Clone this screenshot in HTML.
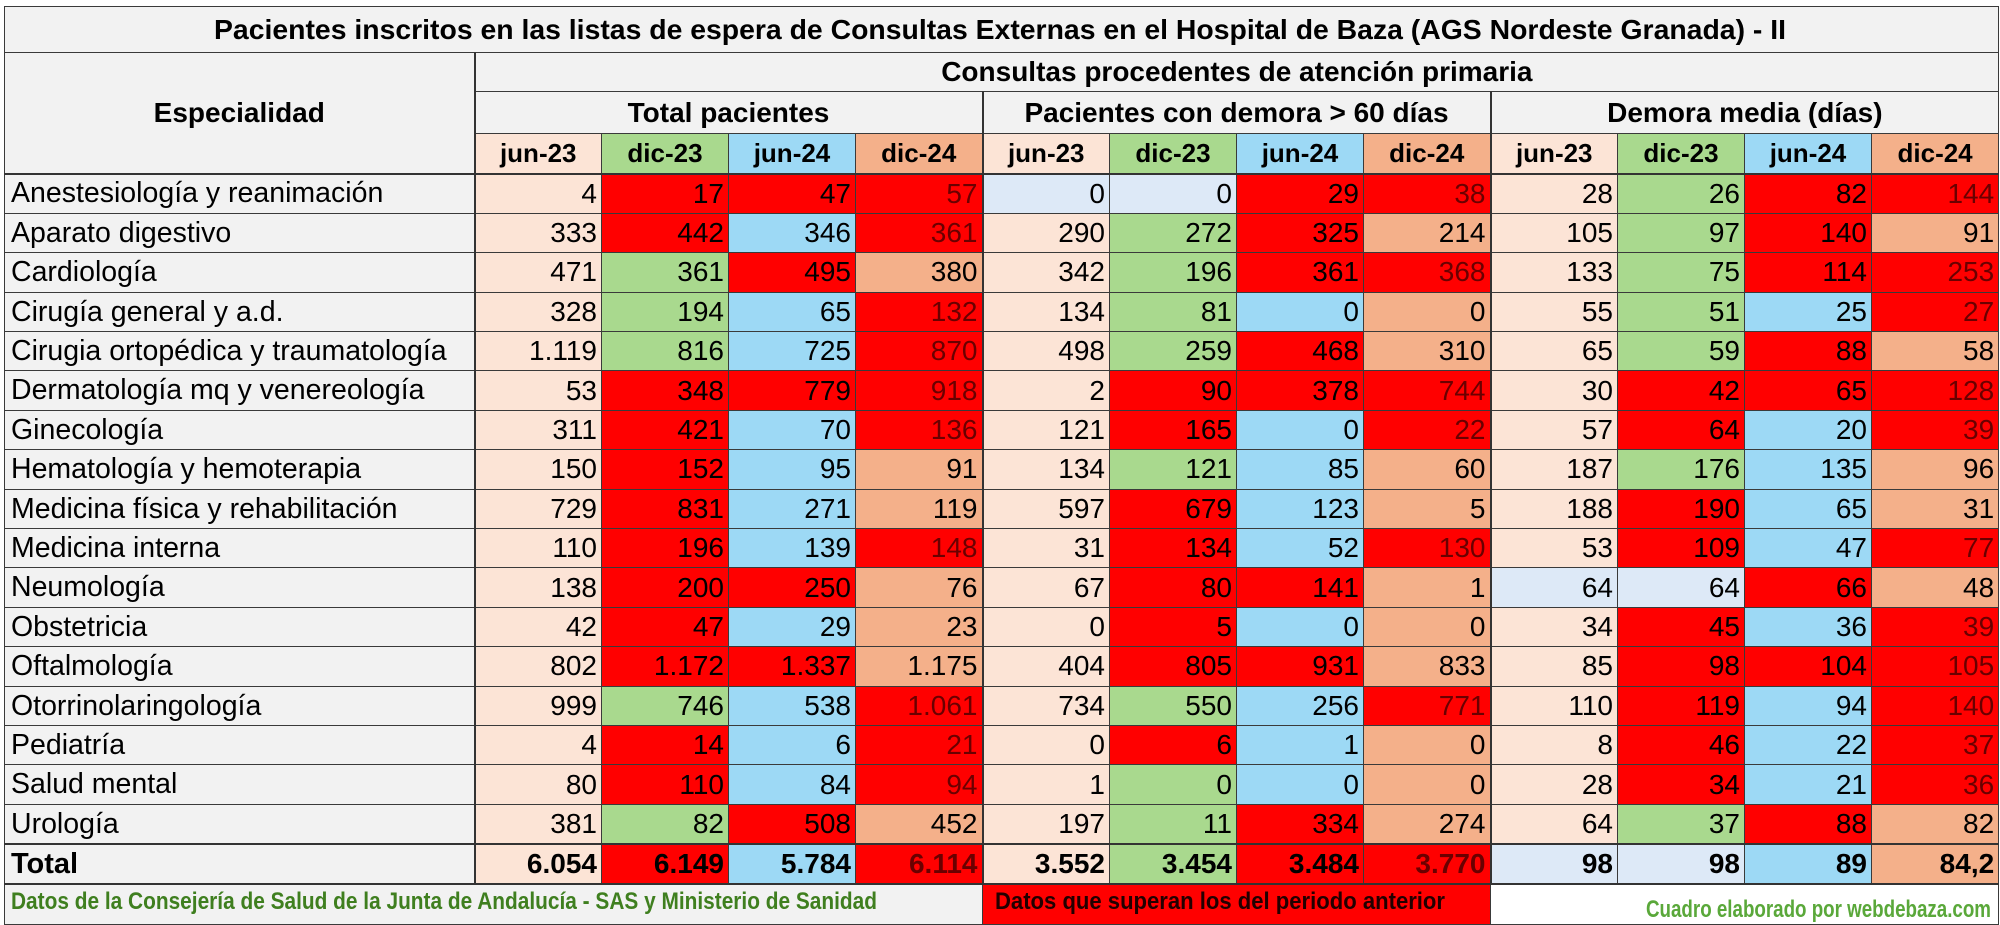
<!DOCTYPE html>
<html><head><meta charset="utf-8"><style>
body{margin:0;width:2000px;height:924px;background:#fff;overflow:hidden;font-family:"Liberation Sans",Arial,sans-serif;}
table{position:absolute;left:4px;top:6px;border-collapse:collapse;table-layout:fixed;width:1994px;}
td{border:1px solid #3a3a3a;padding:0 4px;overflow:hidden;white-space:nowrap;font-size:28px;text-align:right;line-height:1;}
td.l{text-align:left;font-size:28.5px;background:#f2f2f2;padding-left:6px;}
.h{background:#f2f2f2;text-align:center;font-weight:bold;}
.m{text-align:center;font-weight:bold;font-size:26px;}
tr.d td{height:38.4px;}
.P{background:#fce4d6}.R{background:#ff0000}.B{background:#9dd9f5}.G{background:#a9d98e}.S{background:#f4b08a}.L{background:#dde9f7}
td.R.x{color:#6a0000}
.g1{border-left:2px solid #333}
tr.t td{font-weight:bold;height:38px;border-top:2px solid #333}
</style></head><body>
<table>
<colgroup><col style="width:470px"><col span="12" style="width:127px"></colgroup>
<tr><td colspan="13" class="h" style="height:45px;padding:0"><svg width="1990" height="45" style="display:block"><text x="995" y="32" text-anchor="middle" font-family="Liberation Sans, sans-serif" font-weight="bold" font-size="28" textLength="1572" lengthAdjust="spacingAndGlyphs">Pacientes inscritos en las listas de espera de Consultas Externas en el Hospital de Baza  (AGS Nordeste Granada) - II</text></svg></td></tr>
<tr><td rowspan="3" class="h" style="font-size:28px">Especialidad</td><td colspan="12" class="h g1" style="height:38px;font-size:28px">Consultas procedentes de atención primaria</td></tr>
<tr><td colspan="4" class="h g1" style="height:41px;font-size:28px">Total pacientes</td><td colspan="4" class="h g1" style="font-size:28px">Pacientes con demora &gt; 60 días</td><td colspan="4" class="h g1" style="font-size:28px">Demora media (días)</td></tr>
<tr style="height:40px"><td class="m P g1">jun-23</td><td class="m G">dic-23</td><td class="m B">jun-24</td><td class="m S">dic-24</td><td class="m P g1">jun-23</td><td class="m G">dic-23</td><td class="m B">jun-24</td><td class="m S">dic-24</td><td class="m P g1">jun-23</td><td class="m G">dic-23</td><td class="m B">jun-24</td><td class="m S">dic-24</td></tr>
<tr class="d" style="border-top:2px solid #333"><td class="l">Anestesiología y reanimación</td><td class="P g1">4</td><td class="R">17</td><td class="R">47</td><td class="R x">57</td><td class="L g1">0</td><td class="L">0</td><td class="R">29</td><td class="R x">38</td><td class="P g1">28</td><td class="G">26</td><td class="R">82</td><td class="R x">144</td></tr>
<tr class="d"><td class="l">Aparato digestivo</td><td class="P g1">333</td><td class="R">442</td><td class="B">346</td><td class="R x">361</td><td class="P g1">290</td><td class="G">272</td><td class="R">325</td><td class="S">214</td><td class="P g1">105</td><td class="G">97</td><td class="R">140</td><td class="S">91</td></tr>
<tr class="d"><td class="l">Cardiología</td><td class="P g1">471</td><td class="G">361</td><td class="R">495</td><td class="S">380</td><td class="P g1">342</td><td class="G">196</td><td class="R">361</td><td class="R x">368</td><td class="P g1">133</td><td class="G">75</td><td class="R">114</td><td class="R x">253</td></tr>
<tr class="d"><td class="l">Cirugía general y a.d.</td><td class="P g1">328</td><td class="G">194</td><td class="B">65</td><td class="R x">132</td><td class="P g1">134</td><td class="G">81</td><td class="B">0</td><td class="S">0</td><td class="P g1">55</td><td class="G">51</td><td class="B">25</td><td class="R x">27</td></tr>
<tr class="d"><td class="l">Cirugia ortopédica y traumatología</td><td class="P g1">1.119</td><td class="G">816</td><td class="B">725</td><td class="R x">870</td><td class="P g1">498</td><td class="G">259</td><td class="R">468</td><td class="S">310</td><td class="P g1">65</td><td class="G">59</td><td class="R">88</td><td class="S">58</td></tr>
<tr class="d"><td class="l">Dermatología mq y venereología</td><td class="P g1">53</td><td class="R">348</td><td class="R">779</td><td class="R x">918</td><td class="P g1">2</td><td class="R">90</td><td class="R">378</td><td class="R x">744</td><td class="P g1">30</td><td class="R">42</td><td class="R">65</td><td class="R x">128</td></tr>
<tr class="d"><td class="l">Ginecología</td><td class="P g1">311</td><td class="R">421</td><td class="B">70</td><td class="R x">136</td><td class="P g1">121</td><td class="R">165</td><td class="B">0</td><td class="R x">22</td><td class="P g1">57</td><td class="R">64</td><td class="B">20</td><td class="R x">39</td></tr>
<tr class="d"><td class="l">Hematología y hemoterapia</td><td class="P g1">150</td><td class="R">152</td><td class="B">95</td><td class="S">91</td><td class="P g1">134</td><td class="G">121</td><td class="B">85</td><td class="S">60</td><td class="P g1">187</td><td class="G">176</td><td class="B">135</td><td class="S">96</td></tr>
<tr class="d"><td class="l">Medicina física y rehabilitación</td><td class="P g1">729</td><td class="R">831</td><td class="B">271</td><td class="S">119</td><td class="P g1">597</td><td class="R">679</td><td class="B">123</td><td class="S">5</td><td class="P g1">188</td><td class="R">190</td><td class="B">65</td><td class="S">31</td></tr>
<tr class="d"><td class="l">Medicina interna</td><td class="P g1">110</td><td class="R">196</td><td class="B">139</td><td class="R x">148</td><td class="P g1">31</td><td class="R">134</td><td class="B">52</td><td class="R x">130</td><td class="P g1">53</td><td class="R">109</td><td class="B">47</td><td class="R x">77</td></tr>
<tr class="d"><td class="l">Neumología</td><td class="P g1">138</td><td class="R">200</td><td class="R">250</td><td class="S">76</td><td class="P g1">67</td><td class="R">80</td><td class="R">141</td><td class="S">1</td><td class="L g1">64</td><td class="L">64</td><td class="R">66</td><td class="S">48</td></tr>
<tr class="d"><td class="l">Obstetricia</td><td class="P g1">42</td><td class="R">47</td><td class="B">29</td><td class="S">23</td><td class="P g1">0</td><td class="R">5</td><td class="B">0</td><td class="S">0</td><td class="P g1">34</td><td class="R">45</td><td class="B">36</td><td class="R x">39</td></tr>
<tr class="d"><td class="l">Oftalmología</td><td class="P g1">802</td><td class="R">1.172</td><td class="R">1.337</td><td class="S">1.175</td><td class="P g1">404</td><td class="R">805</td><td class="R">931</td><td class="S">833</td><td class="P g1">85</td><td class="R">98</td><td class="R">104</td><td class="R x">105</td></tr>
<tr class="d"><td class="l">Otorrinolaringología</td><td class="P g1">999</td><td class="G">746</td><td class="B">538</td><td class="R x">1.061</td><td class="P g1">734</td><td class="G">550</td><td class="B">256</td><td class="R x">771</td><td class="P g1">110</td><td class="R">119</td><td class="B">94</td><td class="R x">140</td></tr>
<tr class="d"><td class="l">Pediatría</td><td class="P g1">4</td><td class="R">14</td><td class="B">6</td><td class="R x">21</td><td class="P g1">0</td><td class="R">6</td><td class="B">1</td><td class="S">0</td><td class="P g1">8</td><td class="R">46</td><td class="B">22</td><td class="R x">37</td></tr>
<tr class="d"><td class="l">Salud mental</td><td class="P g1">80</td><td class="R">110</td><td class="B">84</td><td class="R x">94</td><td class="P g1">1</td><td class="G">0</td><td class="B">0</td><td class="S">0</td><td class="P g1">28</td><td class="R">34</td><td class="B">21</td><td class="R x">36</td></tr>
<tr class="d"><td class="l">Urología</td><td class="P g1">381</td><td class="G">82</td><td class="R">508</td><td class="S">452</td><td class="P g1">197</td><td class="G">11</td><td class="R">334</td><td class="S">274</td><td class="P g1">64</td><td class="G">37</td><td class="R">88</td><td class="S">82</td></tr>
<tr class="t"><td class="l" style="font-size:29px">Total</td><td class="P g1">6.054</td><td class="R">6.149</td><td class="B">5.784</td><td class="R x">6.114</td><td class="P g1">3.552</td><td class="G">3.454</td><td class="R">3.484</td><td class="R x">3.770</td><td class="L g1">98</td><td class="L">98</td><td class="B">89</td><td class="S">84,2</td></tr>
<tr style="height:39px"><td colspan="5" style="background:#f2f2f2;padding:0;border-top:2px solid #333"><svg width="978" height="39" style="display:block"><text x="6" y="24" font-family="Liberation Sans, sans-serif" font-weight="bold" font-size="24" fill="#3f7f1f" textLength="866" lengthAdjust="spacingAndGlyphs">Datos de la Consejería de Salud de  la Junta de Andalucía - SAS  y Ministerio de Sanidad</text></svg></td><td colspan="4" style="background:#ff0000;padding:0;border-top:2px solid #333"><svg width="506" height="39" style="display:block"><text x="12" y="24" font-family="Liberation Sans, sans-serif" font-weight="bold" font-size="24" fill="#200" textLength="450" lengthAdjust="spacingAndGlyphs">Datos que superan los del periodo anterior</text></svg></td><td colspan="4" style="background:#fff;padding:0;border-top:2px solid #333"><svg width="506" height="39" style="display:block"><text x="500" y="32" text-anchor="end" font-family="Liberation Sans, sans-serif" font-weight="bold" font-size="24" fill="#5aa83a" textLength="345" lengthAdjust="spacingAndGlyphs">Cuadro elaborado por webdebaza.com</text></svg></td></tr>
</table>
</body></html>
